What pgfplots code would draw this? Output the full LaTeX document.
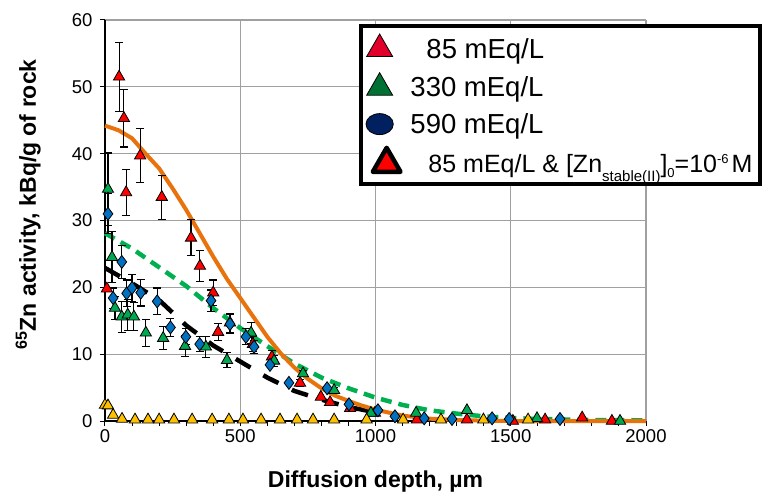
\documentclass[border=0pt]{standalone}
\usepackage{fontspec}
\setmainfont{Liberation Sans}
\usepackage{pgfplots}
\pgfplotsset{compat=1.18}
\definecolor{cred}{HTML}{FF0000}
\definecolor{cgreen}{HTML}{00A850}
\definecolor{cblue}{HTML}{0070C0}
\definecolor{cyellow}{HTML}{FFC000}
\definecolor{corange}{HTML}{E8720C}
\definecolor{cgdash}{HTML}{00B050}
\definecolor{lgred}{HTML}{E0002A}
\definecolor{lggreen}{HTML}{007033}
\definecolor{lgnavy}{HTML}{002060}
\definecolor{gridgray}{HTML}{A0A0A0}
\begin{document}
\begin{tikzpicture}
\begin{axis}[
  name=ax,
  scale only axis, width=541bp, height=401bp,
  xmin=0, xmax=2000, ymin=0, ymax=60,
  xtick={0,500,...,2000}, ytick={0,10,...,60},
  minor xtick={100,200,...,1900},
  axis x line=bottom, axis y line=left,
  axis line style={-, black, line width=1.5bp},
  grid=major, major grid style={gridgray, line width=1.3bp},
  tick align=outside, major tick length=5bp, minor tick length=5bp,
  tick style={black, line width=1bp},
  /pgf/number format/assume math mode=true,
  /pgf/number format/1000 sep={},
  tick label style={font=\fontsize{18.5bp}{20bp}\selectfont},
  yticklabel style={xshift=-4bp},
  xlabel={\textbf{Diffusion depth, µm}},
  ylabel={\textbf{\textsuperscript{65}Zn activity, kBq/g of rock}},
  label style={font=\fontsize{23bp}{26bp}\selectfont},
  xlabel style={at={(axis description cs:0.5,-0.15)}, anchor=center},
  ylabel style={at={(axis description cs:-0.142,0.54)}, anchor=center, rotate=0},
  legend style={at={(rel axis cs:0.4695,0.99)}, anchor=north west,
    draw=black, line width=4bp, fill=white,
    font=\fontsize{27.5bp}{30bp}\selectfont, row sep=11bp,
    inner xsep=5bp, inner ysep=8bp},
  legend cell align=left,
  clip=false,
]
% ---- model curves ----
\addplot[forget plot, black, line width=4.5bp, dash pattern=on 17bp off 15bp] coordinates {
(0,22.9) (100,20.6) (200,18.1) (300,14.3) (400,11.3) (500,8.9) (600,6.5) (700,4.5) (800,3.2) (900,2.1) (1000,1.3)};
\addplot[forget plot, cgdash, line width=4.5bp, dash pattern=on 11bp off 7bp] coordinates {
(0,28.1) (100,25.8) (200,23.0) (300,20.2) (400,16.9) (500,13.9) (600,11.2) (700,8.6) (800,6.5) (900,4.9) (1000,3.5) (1100,2.4) (1200,1.6) (1300,1.1) (1400,0.7) (1500,0.45) (1600,0.3) (1800,0.15) (2000,0.1)};
\addplot[forget plot, corange, line width=4bp] coordinates {
(0,44.2) (50,43.5) (100,42.3) (150,40.0) (200,37.8) (250,34.8) (300,31.6) (350,28.1) (400,24.6) (450,21.3) (500,18.4) (550,15.5) (600,12.6) (650,10.1) (700,8.0) (750,6.3) (800,4.9) (850,3.8) (900,3.0) (950,2.3) (1000,1.7) (1100,0.8) (1200,0.35) (1300,0.15) (1400,0.05) (1500,0) (2000,0)};
% ---- red 85 mEq/L ----
\addplot[forget plot, only marks, mark=triangle*, mark size=6.5bp,
  mark options={fill=cred, draw=black, line width=0.8bp},
  error bars/.cd, y dir=both, y explicit,
  error bar style={black, line width=1.1bp},
  error mark options={rotate=90, mark size=4bp, line width=1.1bp, black}]
  table[x=x, y=y, y error=e] {
x y e
52 51.5 5.2
70 45.3 4.3
78 34.2 3.4
130 39.7 4.0
210 33.5 3.3
318 27.4 2.7
351 23.2 2.3
400 19.2 1.9
418 13.3 1.3
462 14.7 1.4
547 11.5 1.1
617 9.6 0.9
721 5.7 0.5
};
\addplot[forget plot, only marks, mark=triangle*, mark size=6.5bp,
  mark options={fill=cred, draw=black, line width=0.8bp}]
  table[x=x, y=y] {
x y
7 19.8
798 3.6
832 2.8
906 1.9
998 1.2
1153 0.2
1338 0.2
1508 0
1627 0.2
1764 0.5
1874 0
};
% ---- green 330 mEq/L ----
\addplot[forget plot, only marks, mark=triangle*, mark size=6.5bp,
  mark options={fill=cgreen, draw=black, line width=0.8bp},
  error bars/.cd, y dir=both, y explicit,
  error bar style={black, line width=1.1bp},
  error mark options={rotate=90, mark size=4bp, line width=1.1bp, black}]
  table[x=x, y=y, y error=e] {
x y e
11 34.7 5.4
26 24.5 3.8
37 16.9 1.7
62 15.6 2.3
84 15.9 2.3
107 15.6 2.1
151 13.2 2.0
215 12.4 1.7
296 11.2 1.6
373 11.1 1.6
451 9.1 1.1
540 13.2 1.6
625 9.0 0.8
732 7.1 0.5
847 4.6 0.4
};
\addplot[forget plot, only marks, mark=triangle*, mark size=6.5bp,
  mark options={fill=cgreen, draw=black, line width=0.8bp}]
  table[x=x, y=y] {
x y
983 1.2
1150 1.2
1338 1.6
1597 0.4
1904 0
};
% ---- blue 590 mEq/L ----
\addplot[forget plot, only marks, mark=diamond*, mark size=6.5bp,
  mark options={fill=cblue, draw=black, line width=0.8bp},
  error bars/.cd, y dir=both, y explicit,
  error bar style={black, line width=1.1bp},
  error mark options={rotate=90, mark size=4bp, line width=1.1bp, black}]
  table[x=x, y=y, y error=e] {
x y e
11 31.0 3.0
30 18.4 1.5
62 23.8 2.5
80 19.1 2.0
100 19.9 2.0
132 19.2 2.0
193 17.9 2.0
242 14.0 1.3
299 12.6 1.2
350 11.5 1.1
392 18.0 1.6
462 14.5 1.4
521 12.6 1.2
551 11.1 1.0
};
\addplot[forget plot, only marks, mark=diamond*, mark size=6.5bp,
  mark options={fill=cblue, draw=black, line width=0.8bp}]
  table[x=x, y=y] {
x y
610 8.4
680 5.7
821 4.9
902 2.5
1009 1.6
1072 0.7
1180 0.4
1283 0.3
1431 0.4
1494 0.3
1682 0.3
};
% ---- yellow ----
\addplot[forget plot, only marks, mark=triangle*, mark size=6.5bp,
  mark options={fill=cyellow, draw=black, line width=0.8bp}]
  table[x=x, y=y] {
x y
0 2.4
11 2.3
30 0.9
63 0.3
111 0.2
159 0.2
200 0.2
255 0.2
322 0.2
396 0.2
458 0.2
510 0.2
577 0.2
647 0.2
710 0.2
769 0.2
847 0.2
967 0.2
1102 0.2
1242 0.2
1399 0.2
1564 0.2
};
% ---- legend ----
\addlegendimage{only marks, mark=triangle*, mark size=15bp, mark options={fill=lgred, draw=black, line width=0.8bp}}
\addlegendentry{\hspace{24bp}85 mEq/L}
\addlegendimage{only marks, mark=triangle*, mark size=15bp, mark options={fill=lggreen, draw=black, line width=0.8bp}}
\addlegendentry{\hspace{8bp}330 mEq/L}
\addlegendimage{only marks, mark=*, mark size=10.5bp, mark options={fill=lgnavy, draw=black, line width=0.8bp, xscale=1.3}}
\addlegendentry{\hspace{8bp}590 mEq/L}
\addlegendimage{only marks, mark=triangle*, mark size=16bp, mark options={fill=cred, draw=black, line width=4.5bp, line join=round, xshift=7bp}}
\addlegendentry{\fontsize{25bp}{28bp}\selectfont\hspace{26bp}85 mEq/L \& [Zn\smash{\raisebox{-9bp}{\fontsize{15bp}{15bp}\selectfont stable(II)}}]\smash{\raisebox{-5bp}{\fontsize{13bp}{13bp}\selectfont 0}}=10\raisebox{9bp}{\fontsize{13bp}{13bp}\selectfont -6}\hspace{3bp}M}
\end{axis}
\pgfresetboundingbox
\path[use as bounding box] ([xshift=-105bp,yshift=-83bp]ax.south west) rectangle ++(765bp,504bp);
\end{tikzpicture}
\end{document}
